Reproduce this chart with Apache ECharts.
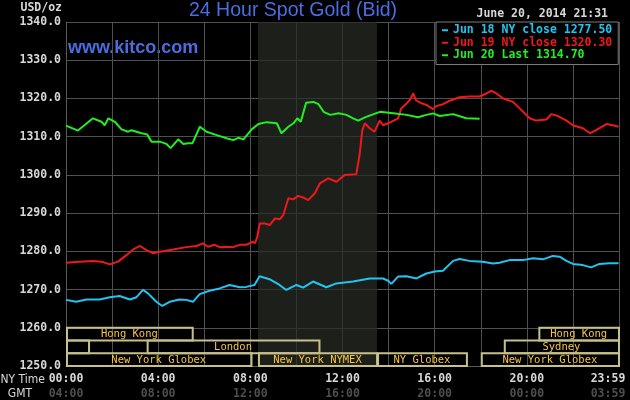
<!DOCTYPE html>
<html><head><meta charset="utf-8">
<script src="https://cdn.jsdelivr.net/npm/echarts@6/dist/echarts.min.js"></script>
<style>html,body{margin:0;padding:0;background:#000;}#c{width:630px;height:400px;}</style>
</head><body><div id="c"></div>
<script>
// hours since 00:00 NY time, price USD/oz
const jun18 = [[0,1267.3],[0.44,1266.8],[0.88,1267.4],[1.46,1267.4],[1.9,1268.0],[2.33,1268.3],[2.77,1267.4],[3.06,1268.0],[3.34,1269.9],[3.56,1269.0],[3.92,1266.8],[4.18,1265.7],[4.5,1266.8],[4.93,1267.4],[5.22,1267.3],[5.51,1266.8],[5.8,1268.8],[6.23,1269.7],[6.67,1270.3],[7.1,1271.2],[7.54,1270.6],[7.82,1270.7],[8.18,1271.2],[8.4,1273.5],[8.83,1272.7],[9.27,1271.2],[9.56,1269.9],[10.0,1271.2],[10.29,1270.5],[10.72,1272.1],[11.3,1270.6],[11.73,1271.6],[12.46,1272.1],[13.18,1272.9],[13.76,1272.9],[13.98,1272.3],[14.12,1271.5],[14.41,1273.4],[14.78,1273.5],[15.21,1272.9],[15.64,1274.2],[16.0,1274.7],[16.36,1274.9],[16.8,1277.5],[17.08,1278.0],[17.51,1277.5],[18.09,1277.3],[18.53,1276.8],[18.82,1277.0],[19.25,1277.7],[19.83,1277.7],[20.27,1278.2],[20.7,1277.9],[21.13,1278.8],[21.42,1278.6],[21.72,1277.5],[22.0,1276.7],[22.43,1276.4],[22.79,1275.8],[23.15,1276.7],[23.58,1276.9],[23.98,1276.9]];
const jun19 = [[0,1277.0],[0.59,1277.3],[1.17,1277.5],[1.54,1277.3],[1.9,1276.6],[2.26,1277.3],[2.62,1279.0],[2.92,1280.5],[3.21,1281.4],[3.49,1280.3],[3.79,1279.5],[4.07,1279.9],[4.65,1280.5],[5.22,1281.1],[5.66,1281.4],[5.94,1282.1],[6.16,1281.2],[6.45,1281.7],[6.67,1281.1],[6.97,1281.2],[7.25,1281.1],[7.54,1281.7],[7.82,1281.7],[8.11,1282.5],[8.2,1282.1],[8.3,1283.8],[8.41,1287.3],[8.63,1287.3],[8.85,1286.9],[9.07,1288.6],[9.28,1288.4],[9.43,1289.5],[9.65,1293.9],[9.86,1293.6],[10.08,1294.5],[10.29,1294.1],[10.51,1293.4],[10.8,1295.2],[11.02,1297.8],[11.38,1299.1],[11.74,1298.2],[12.1,1300.0],[12.6,1300.2],[12.75,1305.6],[12.86,1311.7],[12.97,1313.5],[13.18,1312.2],[13.39,1311.3],[13.61,1314.2],[13.76,1313.0],[14.05,1313.7],[14.41,1314.8],[14.55,1317.4],[14.78,1318.7],[14.92,1319.6],[15.07,1321.3],[15.18,1319.6],[15.36,1318.9],[15.64,1318.3],[15.93,1317.2],[16.07,1318.0],[16.36,1318.5],[16.65,1319.4],[17.08,1320.3],[17.51,1320.5],[17.95,1320.5],[18.24,1321.3],[18.46,1322.0],[18.68,1321.3],[18.97,1320.0],[19.4,1319.1],[19.69,1317.4],[20.12,1314.8],[20.41,1314.2],[20.85,1314.5],[21.06,1315.9],[21.35,1315.4],[21.72,1314.2],[22.0,1313.0],[22.43,1312.2],[22.75,1310.9],[23.01,1311.7],[23.45,1313.3],[23.73,1313.0],[23.98,1312.6]];
const jun20 = [[0,1312.9],[0.52,1311.6],[1.17,1314.8],[1.54,1313.9],[1.68,1313.0],[1.84,1314.8],[2.12,1313.9],[2.41,1311.9],[2.7,1311.3],[2.84,1311.7],[3.28,1310.9],[3.52,1310.6],[3.71,1308.7],[4.07,1308.7],[4.36,1308.1],[4.54,1307.0],[4.87,1309.3],[5.09,1308.1],[5.3,1308.3],[5.49,1308.3],[5.81,1312.6],[6.1,1311.3],[6.54,1310.4],[6.97,1309.6],[7.26,1309.1],[7.48,1309.7],[7.7,1309.3],[8.06,1311.9],[8.35,1313.3],[8.71,1313.8],[9.15,1313.5],[9.35,1310.9],[9.65,1312.6],[9.87,1313.5],[10.04,1314.8],[10.19,1313.9],[10.42,1318.9],[10.74,1319.1],[10.96,1318.5],[11.18,1316.5],[11.47,1315.7],[11.83,1316.1],[12.17,1315.7],[12.46,1314.8],[12.68,1314.2],[13.0,1315.1],[13.62,1316.5],[14.2,1316.1],[14.78,1315.7],[15.28,1315.1],[15.64,1315.7],[15.93,1316.1],[16.22,1315.4],[16.8,1315.9],[17.37,1314.8],[17.95,1314.7]];
const seriesNames = ['Jun 18 NY close 1277.50','Jun 19 NY close 1320.30','Jun 20 Last 1314.70'];
const seriesColors = ['#22c4f0','#f01818','#22ee22'];
const nymexShade = [8.33, 13.5];
const sessionNames = ['Hong Kong','','London','New York Globex','New York NYMEX','NY Globex','New York Globex','Sydney','Hong Kong'];
const sessionRows  = [0,1,1,2,2,2,2,1,0];
const sessionStart = [0,0,3.5,0,8.33,13.5,18,19,20.5];
const sessionEnd   = [5.5,1,11,8.05,13.5,17.4,24,24,24];
const dateText = 'June 20, 2014 21:31';

const MONO = '"DejaVu Sans Mono", monospace';
const pad = n => (n<10?'0':'')+n;
const chart = echarts.init(document.getElementById('c'), null, {renderer:'canvas'});
const lineSeries = [jun18, jun19, jun20].map((d,i)=>({
  name: seriesNames[i], type:'line', data:d, showSymbol:false, animation:false,
  color: seriesColors[i], lineStyle:{width:2, color:seriesColors[i]}, z: 3+i,
  markArea: i===1 ? {silent:true, itemStyle:{color:'rgba(40,44,36,0.72)'}, data:[[{xAxis:nymexShade[0]},{xAxis:nymexShade[1]}]]} : undefined
}));
const sessionSeries = {
  type:'custom', animation:false, silent:true, z:2,
  data: sessionNames.map((n,i)=>[sessionStart[i], sessionEnd[i], sessionRows[i]]),
  encode:{x:[0,1], y:2},
  renderItem(params, api){
    const s=api.value(0), e=api.value(1), r=api.value(2);
    const top = 1260 - r*10/3, bot = top - 10/3;
    const p1 = api.coord([s, top]), p2 = api.coord([e, bot]);
    const name = sessionNames[params.dataIndex];
    return {type:'group', children:[
      {type:'rect', shape:{x:p1[0]+1, y:p1[1], width:p2[0]-p1[0]-1, height:p2[1]-p1[1]},
       style:{fill:null, stroke:'#c8c08c', lineWidth:2}},
      {type:'text', x:(p1[0]+p2[0])/2, y:(p1[1]+p2[1])/2+0.5,
       style:{text:name, align:'center', verticalAlign:'middle', fill:'#f5c542', font:'10.5px '+MONO}}
    ]};
  }
};
chart.setOption({
  backgroundColor:'#000',
  animation:false,
  title:{text:'24 Hour Spot Gold (Bid)', left:189, top:1, padding:0,
    textStyle:{color:'#4a6ee0', fontFamily:'"Liberation Sans", Arial', fontSize:19.5, fontWeight:'normal'}},
  grid:{left:66, right:11, top:22, bottom:34, outerBoundsMode:'none', containLabel:false},
  legend:{orient:'vertical', left:436, top:22, width:183, itemGap:0, padding:[2,6,3,6],
    backgroundColor:'#000', borderColor:'#7a7a7a', borderWidth:1,
    icon:'rect', itemWidth:6, itemHeight:2, selectedMode:false,
    textStyle:{fontFamily:MONO, fontSize:11.5, fontWeight:'bold', lineHeight:12.5},
    data: seriesNames.map((n,i)=>({name:n, textStyle:{color:seriesColors[i]}}))},
  xAxis:{type:'value', min:0, max:24, interval:2,
    axisLine:{show:true, lineStyle:{color:'#5a5a5a'}}, axisTick:{show:false},
    splitLine:{show:true, lineStyle:{color:'#505050', width:1}},
    axisLabel:{margin:6, showMaxLabel:true, showMinLabel:true, hideOverlap:false,
      formatter(v){
        if (v===24) return '{c|23:59}\n{d|03:59}';
        if (v%4!==0) return '';
        return '{a|'+pad(v)+':00}\n{b|'+pad((v+4)%24)+':00}';
      },
      rich:{
        a:{color:'#d8d8d8', fontFamily:MONO, fontSize:11.5, fontWeight:'bold', lineHeight:15},
        b:{color:'#4e4e4e', fontFamily:MONO, fontSize:11.5, fontWeight:'bold', lineHeight:15},
        c:{color:'#d8d8d8', fontFamily:MONO, fontSize:11.5, fontWeight:'bold', lineHeight:15, padding:[0,22,0,0]},
        d:{color:'#4e4e4e', fontFamily:MONO, fontSize:11.5, fontWeight:'bold', lineHeight:15, padding:[0,22,0,0]}
      }}},
  yAxis:{type:'value', min:1250, max:1340, interval:10,
    axisLine:{show:true, lineStyle:{color:'#5a5a5a'}}, axisTick:{show:false},
    splitLine:{show:true, lineStyle:{color:'#505050', width:1}},
    axisLabel:{margin:5, color:'#d8d8d8', fontFamily:MONO, fontSize:11.5, fontWeight:'bold',
      formatter:v=>v.toFixed(1)}},
  graphic:[
    {type:'text', x:68, y:48, style:{text:'www.kitco.com', fill:'#4a6ee0', font:'bold 18px "Liberation Sans", Arial', verticalAlign:'middle'}},
    {type:'text', x:62, y:8, style:{text:'USD/oz', fill:'#d8d8d8', font:'bold 11.5px '+MONO, align:'right', verticalAlign:'middle'}},
    {type:'text', x:608, y:14, style:{text:dateText, fill:'#d8d8d8', font:'bold 11.5px '+MONO, align:'right', verticalAlign:'middle'}},
    {type:'text', x:45, y:380, style:{text:'NY Time', fill:'#d8d8d8', font:'12px "DejaVu Sans Condensed", sans-serif', align:'right', verticalAlign:'middle'}},
    {type:'text', x:20, y:394, style:{text:'GMT', fill:'#d8d8d8', font:'12px "DejaVu Sans Condensed", sans-serif', align:'center', verticalAlign:'middle'}}
  ],
  series:[sessionSeries, ...lineSeries]
});
</script></body></html>
